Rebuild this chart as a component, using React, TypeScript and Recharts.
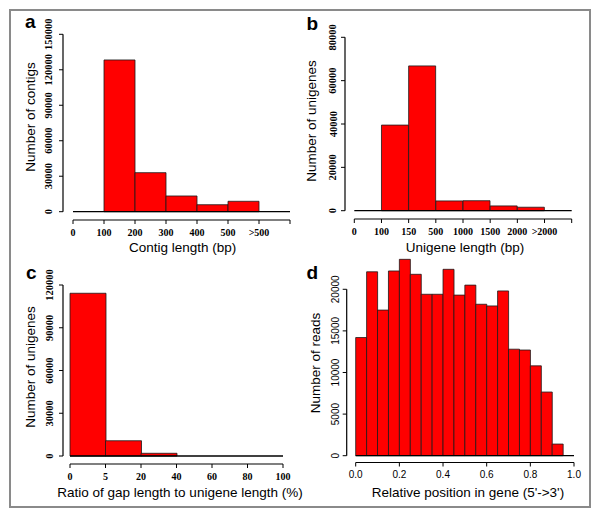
import React from 'react';
import { BarChart, Bar, XAxis, YAxis, ReferenceLine, Label } from 'recharts';

// a: contig length (first slot 0-100 is empty)
const contigTickLabels = ['0', '100', '200', '300', '400', '500', '>500', ''];
const contigCounts = [128300, 33000, 13300, 5900, 8800];
const contigYTicks = [0, 30000, 60000, 90000, 120000, 150000];

// b: unigene length (first slot 0-100 is empty)
const unigeneTickLabels = ['0', '100', '150', '500', '1000', '1500', '2000', '>2000', ''];
const unigeneCounts = [39500, 66800, 4500, 4600, 2200, 1600];
const unigeneYTicks = [0, 20000, 40000, 60000, 80000];

// c: gap ratio
const gapTickLabels = ['0', '5', '20', '40', '60', '80', '100'];
const gapCounts = [114200, 10700, 1900];
const gapYTicks = [0, 30000, 60000, 90000, 120000];

// d: read position along gene, bins of 0.05
const positionTicks = [0, 0.2, 0.4, 0.6, 0.8, 1.0];
const readCounts = [
  14200, 22100, 17500, 22200, 23600, 21800, 19400, 19400, 22400, 19300,
  20500, 18200, 18000, 19800, 12800, 12700, 10800, 7650, 1400,
];
const readYTicks = [0, 5000, 10000, 15000, 20000];

const SANS = '"Liberation Sans", Arial, sans-serif';
const SERIF = '"Liberation Serif", "Times New Roman", serif';

type Row = { x: number; count: number };

interface PanelProps {
  left: number;
  top: number;
  width: number;
  height: number;
  margin: { top: number; right: number; bottom: number; left: number };
  data: Row[];
  xDomain: [number, number];
  xTicks: number[];
  xLabel: (v: number) => string;
  yDomain: [number, number];
  yTicks: number[];
  yWidth: number;
  ySpacer: number;
  xSpacer: number;
  xHeight: number;
  tickGap: number;
  serif: boolean;
  yLineTop?: number;
  yLineX?: number;
  xTitle: string;
  xTitleX: number;
  xTitleY: number;
  yTitle: string;
  yTitleX: number;
  yTitleY: number;
}

const Panel = (p: PanelProps) => {
  const tickFont = p.serif
    ? { fontFamily: SERIF, fontWeight: 700, fontSize: 10.5 }
    : { fontFamily: SANS, fontWeight: 400, fontSize: 10 };

  const xTick = (props: any) => {
    const { x, y, payload } = props;
    return (
      <text x={x} y={y + 9.5} textAnchor="middle" fill="#000" {...tickFont} fontSize={10}>
        {p.xLabel(payload.value)}
      </text>
    );
  };

  const yTick = (props: any) => {
    const { x, y, payload } = props;
    const bx = x + 6 - p.tickGap;
    return (
      <text x={bx} y={y} transform={`rotate(-90 ${bx} ${y})`} textAnchor="middle" fill="#000" {...tickFont}>
        {payload.value}
      </text>
    );
  };

  return (
    <div style={{ position: 'absolute', left: p.left, top: p.top }}>
      <BarChart
        width={p.width}
        height={p.height}
        data={p.data}
        margin={p.margin}
        barCategoryGap={0}
        barGap={0}
      >
        <XAxis
          xAxisId={0}
          dataKey="x"
          type="number"
          domain={p.xDomain}
          ticks={p.xTicks}
          height={p.xSpacer}
          tick={false}
          tickLine={false}
          axisLine={{ stroke: '#000', strokeWidth: 1.3 }}
        />
        <XAxis
          xAxisId={1}
          dataKey="x"
          type="number"
          domain={p.xDomain}
          ticks={p.xTicks}
          interval={0}
          height={p.xHeight}
          tickSize={4}
          tickMargin={2}
          axisLine={{ stroke: '#000', strokeWidth: 1.2 }}
          tickLine={{ stroke: '#000' }}
          tick={xTick}
        >
          <Label
            content={() => (
              <text x={p.xTitleX} y={p.xTitleY} textAnchor="middle" fontFamily={SANS} fontSize={13.5} fill="#000">
                {p.xTitle}
              </text>
            )}
          />
        </XAxis>
        <YAxis
          yAxisId={0}
          width={p.ySpacer}
          domain={p.yDomain}
          axisLine={false}
          tickLine={false}
          tick={false}
        />
        <YAxis
          yAxisId={1}
          width={p.yWidth}
          domain={p.yDomain}
          ticks={p.yTicks}
          interval={0}
          tickSize={4}
          tickMargin={2}
          axisLine={p.yLineTop == null ? { stroke: '#000', strokeWidth: 1.2 } : false}
          tickLine={{ stroke: '#000' }}
          tick={yTick}
        >
          <Label
            content={() => (
              <text
                x={p.yTitleX}
                y={p.yTitleY}
                transform={`rotate(-90 ${p.yTitleX} ${p.yTitleY})`}
                textAnchor="middle"
                fontFamily={SANS}
                fontSize={13.5}
                fill="#000"
              >
                {p.yTitle}
              </text>
            )}
          />
        </YAxis>
        {p.yLineTop != null && (
          <ReferenceLine
            xAxisId={0}
            yAxisId={1}
            segment={[
              { x: p.yLineX, y: 0 },
              { x: p.yLineX, y: p.yLineTop },
            ]}
            ifOverflow="visible"
            stroke="#000"
            strokeWidth={1.2}
          />
        )}
        <Bar
          xAxisId={0}
          yAxisId={1}
          dataKey="count"
          fill="#ff0000"
          stroke="#1a1a1a"
          strokeWidth={0.8}
          isAnimationActive={false}
        />
      </BarChart>
    </div>
  );
};

const letterStyle = (left: number, top: number): React.CSSProperties => ({
  position: 'absolute',
  left,
  top,
  fontFamily: SANS,
  fontWeight: 700,
  fontSize: 19,
  lineHeight: '19px',
  color: '#000',
});

export default function App() {
  const contigData = contigCounts.map((count, i) => ({ x: i + 1.5, count }));
  const unigeneData = unigeneCounts.map((count, i) => ({ x: i + 1.5, count }));
  const gapData = gapCounts.map((count, i) => ({ x: i + 0.5, count }));
  const readData = readCounts.map((count, i) => ({ x: (i + 0.5) * 0.05, count }));

  return (
    <div style={{ position: 'relative', width: 600, height: 518, background: '#fff' }}>
      <style>{'body{margin:0}'}</style>
      <div
        style={{
          position: 'absolute',
          left: 9,
          top: 9,
          width: 582,
          height: 499,
          boxSizing: 'border-box',
          border: '2px solid #8a8a8a',
        }}
      />
      <Panel
        left={0}
        top={0}
        width={300}
        height={260}
        margin={{ top: 34.3, right: 10, bottom: 10, left: 0 }}
        data={contigData}
        xDomain={[0, 7]}
        xTicks={[0, 1, 2, 3, 4, 5, 6, 7]}
        xLabel={(v) => contigTickLabels[v]}
        yDomain={[0, 150000]}
        yTicks={contigYTicks}
        yWidth={63}
        ySpacer={10}
        xSpacer={8.3}
        xHeight={30}
        tickGap={10.5}
        serif
        xTitle="Contig length (bp)"
        xTitleX={182.7}
        xTitleY={251.7}
        yTitle="Number of contigs"
        yTitleX={35}
        yTitleY={117}
      />
      <Panel
        left={300}
        top={0}
        width={300}
        height={260}
        margin={{ top: 37.3, right: 28.3, bottom: 11, left: 0 }}
        data={unigeneData}
        xDomain={[0, 8]}
        xTicks={[0, 1, 2, 3, 4, 5, 6, 7, 8]}
        xLabel={(v) => unigeneTickLabels[v]}
        yDomain={[0, 80000]}
        yTicks={unigeneYTicks}
        yWidth={45}
        ySpacer={9.3}
        xSpacer={8.3}
        xHeight={30}
        tickGap={8.5}
        serif
        xTitle="Unigene length (bp)"
        xTitleX={165}
        xTitleY={251.7}
        yTitle="Number of unigenes"
        yTitleX={16}
        yTitleY={121}
      />
      <Panel
        left={0}
        top={250}
        width={320}
        height={268}
        margin={{ top: 35, right: 37, bottom: 24, left: 0 }}
        data={gapData}
        xDomain={[0, 6]}
        xTicks={[0, 1, 2, 3, 4, 5, 6]}
        xLabel={(v) => gapTickLabels[v]}
        yDomain={[0, 120000]}
        yTicks={gapYTicks}
        yWidth={63}
        ySpacer={7}
        xSpacer={8}
        xHeight={30}
        tickGap={10}
        serif
        xTitle="Ratio of gap length to unigene length (%)"
        xTitleX={180}
        xTitleY={246.5}
        yTitle="Number of unigenes"
        yTitleX={35}
        yTitleY={117}
      />
      <Panel
        left={300}
        top={250}
        width={300}
        height={268}
        margin={{ top: 6, right: 26, bottom: 25.5, left: 0 }}
        data={readData}
        xDomain={[0, 1]}
        xTicks={positionTicks}
        xLabel={(v) => v.toFixed(1)}
        yDomain={[0, 24000]}
        yTicks={readYTicks}
        yWidth={46.7}
        ySpacer={9}
        xSpacer={6.8}
        xHeight={30}
        tickGap={7.4}
        serif={false}
        yLineTop={20000}
        yLineX={-9 / 218.3}
        xTitle="Relative position in gene (5'->3')"
        xTitleX={168}
        xTitleY={246.5}
        yTitle="Number of reads"
        yTitleX={19.5}
        yTitleY={113}
      />
      <div style={letterStyle(25, 12.4)}>a</div>
      <div style={letterStyle(306.5, 14)}>b</div>
      <div style={letterStyle(26, 263)}>c</div>
      <div style={letterStyle(306.5, 263)}>d</div>
    </div>
  );
}
